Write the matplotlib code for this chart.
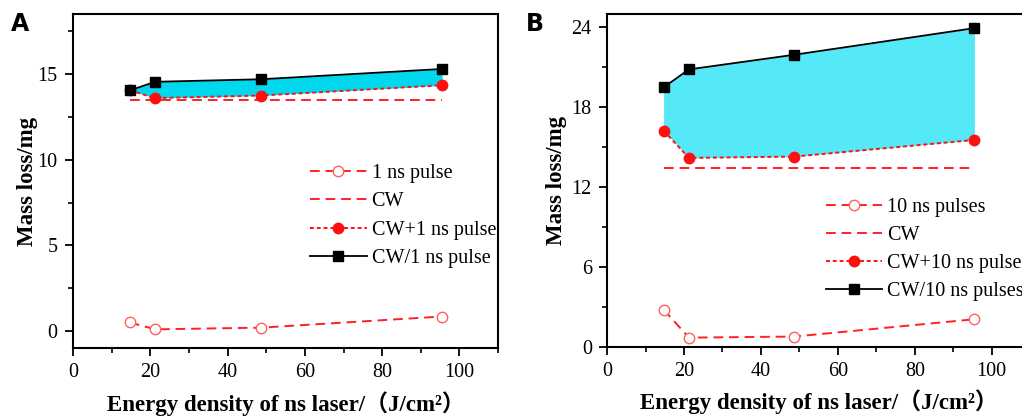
import numpy as np
import matplotlib
matplotlib.use("Agg")
import matplotlib.pyplot as plt
from matplotlib.ticker import MultipleLocator

plt.rcParams['font.family'] = ['Liberation Serif', 'Noto Sans CJK SC', 'DejaVu Serif']

energy = [14.7, 21.3, 48.7, 95.5]

# panel A: 1 ns pulse
a_pulse = [0.5, 0.1, 0.2, 0.85]
a_cw = [13.5, 13.5, 13.5, 13.5]
a_sum = [14.05, 13.6, 13.75, 14.35]
a_ratio = [14.05, 14.55, 14.7, 15.3]
a_labels = ['1 ns pulse', 'CW', 'CW+1 ns pulse', 'CW/1 ns pulse']

# panel B: 10 ns pulses
b_pulse = [2.8, 0.7, 0.78, 2.08]
b_cw = [13.45, 13.45, 13.45, 13.45]
b_sum = [16.25, 14.2, 14.3, 15.55]
b_ratio = [19.5, 20.85, 21.95, 23.95]
b_labels = ['10 ns pulses', 'CW', 'CW+10 ns pulses', 'CW/10 ns pulses']

xlabel = 'Energy density of ns laser/（J/cm²）'
ylabel = 'Mass loss/mg'


def draw(ax, pulse, cw, summ, ratio, labels, ylim, ymajor, yminor, fill_color, leg_anchor, ylpad):
    ax.fill_between(energy, summ, ratio, color=fill_color, lw=0, zorder=1)
    ax.plot(energy, pulse, ls=(0, (5, 3)), color='#ff2020', lw=1.4, marker='o', ms=7.5,
            mfc='white', mec='#ff6060', mew=1.0, label=labels[0], zorder=3)
    ax.plot(energy, cw, ls=(0, (5, 3)), color='#ff2020', lw=1.4, label=labels[1], zorder=2)
    ax.plot(energy, summ, ls=(0, (2, 1.5)), color='#ff1010', lw=1.4, marker='o', ms=7.5,
            mfc='#ff1010', mec='#ff1010', label=labels[2], zorder=3)
    ax.plot(energy, ratio, ls='-', color='black', lw=1.3, marker='s', ms=6.5,
            mfc='black', label=labels[3], zorder=4)

    ax.set_xlim(0, 110)
    ax.set_ylim(*ylim)
    ax.xaxis.set_major_locator(MultipleLocator(20))
    ax.xaxis.set_minor_locator(MultipleLocator(10))
    ax.yaxis.set_major_locator(MultipleLocator(ymajor))
    ax.yaxis.set_minor_locator(MultipleLocator(yminor))
    ax.tick_params(which='major', direction='out', length=6, width=1.3, labelsize=14.5, pad=5)
    ax.tick_params(which='minor', direction='out', length=3.5, width=1.2)
    for sp in ax.spines.values():
        sp.set_linewidth(1.5)
    ax.set_xlabel(xlabel, fontsize=16.5, fontweight='bold', labelpad=6)
    ax.set_ylabel(ylabel, fontsize=16.5, fontweight='bold', labelpad=ylpad)
    ax.legend(loc='upper left', bbox_to_anchor=leg_anchor, frameon=False, fontsize=14.5,
              handlelength=2.8, handletextpad=0.25, labelspacing=0.45, borderaxespad=0)


fig = plt.figure(figsize=(10.22, 4.16), dpi=100)
ax1 = fig.add_axes([0.0714, 0.163, 0.416, 0.803])
ax2 = fig.add_axes([0.594, 0.166, 0.414, 0.800])

draw(ax1, a_pulse, a_cw, a_sum, a_ratio, a_labels, (-1.0, 18.5), 5, 2.5, '#00d8ee',
     (0.539, 0.575), 0)
draw(ax2, b_pulse, b_cw, b_sum, b_ratio, b_labels, (0, 25), 6, 3, '#55e8f7',
     (0.498, 0.473), 3)

fig.text(0.011, 0.925, 'A', fontsize=17, fontweight='bold', family='DejaVu Sans')
fig.text(0.515, 0.925, 'B', fontsize=17, fontweight='bold', family='DejaVu Sans')

fig.savefig('out.png', dpi=100)
